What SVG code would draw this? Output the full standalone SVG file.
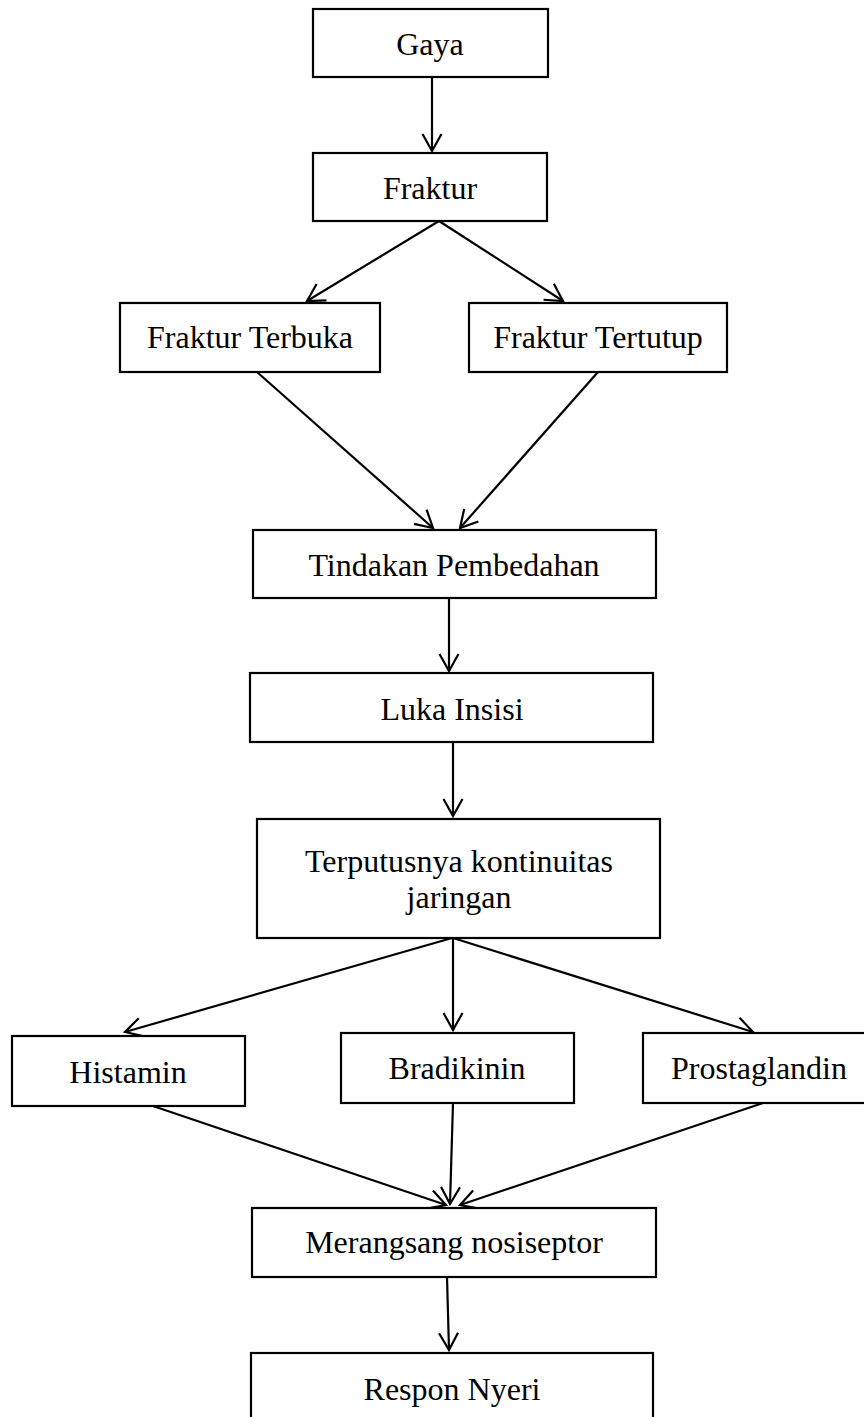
<svg xmlns="http://www.w3.org/2000/svg" width="864" height="1417" viewBox="0 0 864 1417">
<style>
.box{fill:#fff;stroke:#000;stroke-width:2.2}
.lbl{font-family:"Liberation Serif","Times New Roman",serif;font-size:32px;fill:#000;text-anchor:middle}
.con{stroke:#000;stroke-width:2.2;fill:none;marker-end:url(#arr)}
</style>
<defs>
<marker id="arr" markerUnits="userSpaceOnUse" viewBox="-20 -12 22 24" refX="0" refY="0" markerWidth="22" markerHeight="24" orient="auto">
<path d="M-17,-9.5 L0,0 L-17,9.5" fill="none" stroke="#000" stroke-width="2.2"/>
</marker>
</defs>
<rect width="864" height="1417" fill="#fff"/>
<g id="connectors">
<line class="con" x1="432" y1="77" x2="432" y2="151"/>
<line class="con" x1="439" y1="221" x2="307" y2="301"/>
<line class="con" x1="439" y1="221" x2="563" y2="301"/>
<line class="con" x1="257" y1="372" x2="433" y2="528"/>
<line class="con" x1="598" y1="372" x2="460" y2="528"/>
<line class="con" x1="449" y1="598" x2="449" y2="671"/>
<line class="con" x1="453" y1="742" x2="453" y2="816"/>
<line class="con" x1="452" y1="938" x2="125" y2="1032"/>
<line class="con" x1="453" y1="938" x2="453" y2="1030"/>
<line class="con" x1="453" y1="938" x2="753" y2="1032"/>
<line class="con" x1="150" y1="1105" x2="446" y2="1205"/>
<line class="con" x1="453" y1="1103" x2="450" y2="1204"/>
<line class="con" x1="763" y1="1103" x2="460" y2="1205"/>
<line class="con" x1="447" y1="1277" x2="449" y2="1350"/>
</g>
<g id="gaya"><rect class="box" x="313" y="9" width="235" height="68"/><text class="lbl" x="430" y="55">Gaya</text></g>
<g id="fraktur"><rect class="box" x="313" y="153" width="234" height="68"/><text class="lbl" x="430" y="199">Fraktur</text></g>
<g id="fraktur-terbuka"><rect class="box" x="120" y="303" width="260" height="69"/><text class="lbl" x="250" y="348">Fraktur Terbuka</text></g>
<g id="fraktur-tertutup"><rect class="box" x="469" y="303" width="258" height="69"/><text class="lbl" x="598" y="348">Fraktur Tertutup</text></g>
<g id="tindakan-pembedahan"><rect class="box" x="253" y="530" width="403" height="68"/><text class="lbl" x="454" y="576">Tindakan Pembedahan</text></g>
<g id="luka-insisi"><rect class="box" x="250" y="673" width="403" height="69"/><text class="lbl" x="452" y="720">Luka Insisi</text></g>
<g id="terputusnya"><rect class="box" x="257" y="819" width="403" height="119"/><text class="lbl" x="459" y="872">Terputusnya kontinuitas</text><text class="lbl" x="459" y="908">jaringan</text></g>
<g id="histamin"><rect class="box" x="12" y="1036" width="233" height="70"/><text class="lbl" x="128" y="1083">Histamin</text></g>
<g id="bradikinin"><rect class="box" x="341" y="1033" width="233" height="70"/><text class="lbl" x="457" y="1079">Bradikinin</text></g>
<g id="prostaglandin"><rect class="box" x="643" y="1033" width="233" height="70"/><text class="lbl" x="759" y="1079">Prostaglandin</text></g>
<g id="merangsang-nosiseptor"><rect class="box" x="252" y="1208" width="404" height="69"/><text class="lbl" x="454" y="1253">Merangsang nosiseptor</text></g>
<g id="respon-nyeri"><rect class="box" x="251" y="1353" width="402" height="80"/><text class="lbl" x="452" y="1400">Respon Nyeri</text></g>
</svg>
